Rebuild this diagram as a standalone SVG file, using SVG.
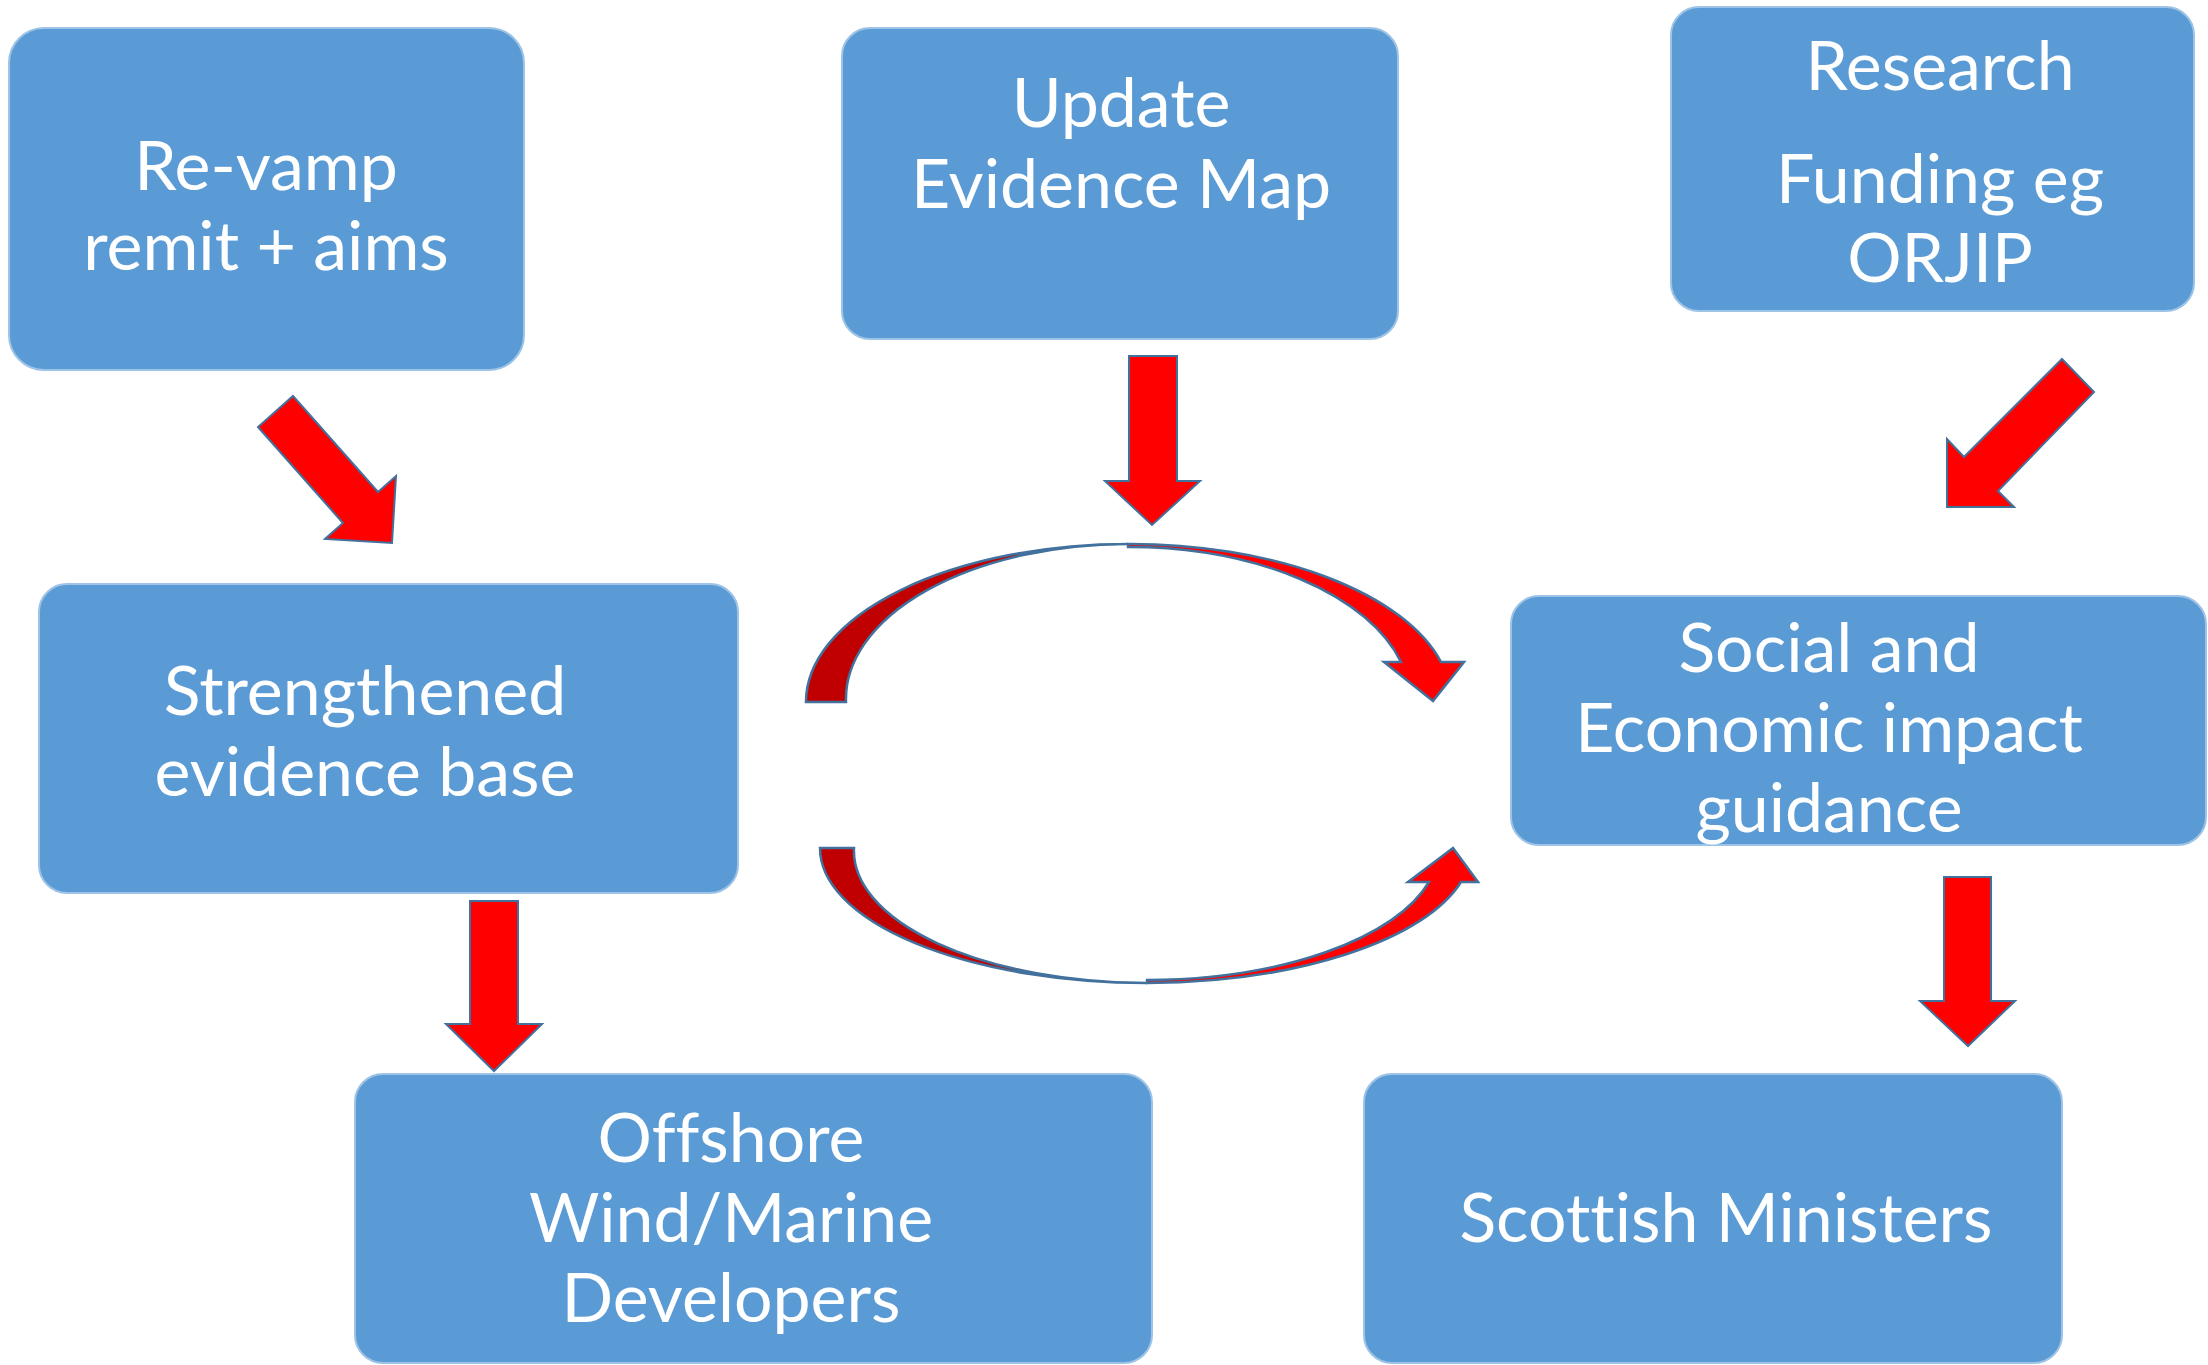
<svg xmlns="http://www.w3.org/2000/svg" width="2208" height="1365" viewBox="0 0 2208 1365">
<style>
.box{fill:#5B9BD5;stroke:#9DC3E6;stroke-width:2}
.t{font-family:Lato,"Open Sans","Liberation Sans",sans-serif;font-size:68px;fill:#ffffff;text-anchor:middle;font-variant-ligatures:none;font-feature-settings:"liga" 0,"clig" 0}
.arr{fill:#FF0000;stroke:#41719C;stroke-width:2;stroke-linejoin:miter}
.dark{fill:#C00000;stroke:#41719C;stroke-width:2.5}
.bright{fill:#FF0000;stroke:#41719C;stroke-width:2.5}
</style>
<rect width="2208" height="1365" fill="#ffffff"/>
<g id="connectors">
<polygon class="arr" points="293,396 378,492 396,476 392,543 325,539 343,523 258,427"/>
<polygon class="arr" points="1129,356 1177,356 1177,481 1200,481 1152,525 1105,481 1129,481"/>
<polygon class="arr" points="2062,359 2094,392 1998,491 2014,507 1947,507 1947,439 1964,457"/>
<polygon class="arr" points="470,901 518,901 518,1024 542,1024 494,1071 446,1024 470,1024"/>
<polygon class="arr" points="1944,877 1991,877 1991,1001 2015,1001 1968,1046 1920,1001 1944,1001"/>
<g id="curve-top">
<path class="dark" d="M806,702 A322,158 0 0 1 1128,544 A282,155 0 0 0 846,702 Z"/>
<path class="bright" d="M1128,544 A322,158 0 0 1 1441,662 L1464,662 L1433,701 L1384,662 L1401,662 A282,155 0 0 0 1128,547 Z"/>
</g>
<g id="curve-bottom">
<path class="dark" d="M820,848 A327,135 0 0 0 1147,983 A293,132 0 0 1 854,848 Z"/>
<path class="bright" d="M1147,983 A327,135 0 0 0 1461,882 L1478,882 L1453,848 L1408,882 L1429,882 A293,132 0 0 1 1147,980 Z"/>
</g>
</g>
<g id="node-revamp">
<rect class="box" x="9" y="28" width="515" height="342" rx="35"/>
<text class="t" x="266" y="190">Re-vamp</text>
<text class="t" x="266" y="270">remit + aims</text>
</g>
<g id="node-update">
<rect class="box" x="842" y="28" width="556" height="311" rx="28"/>
<text class="t" x="1121" y="127">Update</text>
<text class="t" x="1121" y="208">Evidence Map</text>
</g>
<g id="node-research">
<rect class="box" x="1671" y="7" width="523" height="304" rx="28"/>
<text class="t" x="1940" y="90">Research</text>
<text class="t" x="1940" y="203">Funding eg</text>
<text class="t" x="1940" y="282">ORJIP</text>
</g>
<g id="node-strengthened">
<rect class="box" x="39" y="584" width="699" height="309" rx="28"/>
<text class="t" x="365" y="715">Strengthened</text>
<text class="t" x="365" y="796">evidence base</text>
</g>
<g id="node-social">
<rect class="box" x="1511" y="596" width="695" height="249" rx="28"/>
<text class="t" x="1829" y="672">Social and</text>
<text class="t" x="1829" y="752">Economic impact</text>
<text class="t" x="1829" y="832">guidance</text>
</g>
<g id="node-offshore">
<rect class="box" x="355" y="1074" width="797" height="289" rx="28"/>
<text class="t" x="731" y="1162">Offshore</text>
<text class="t" x="731" y="1242">Wind/Marine</text>
<text class="t" x="731" y="1322">Developers</text>
</g>
<g id="node-ministers">
<rect class="box" x="1364" y="1074" width="698" height="289" rx="28"/>
<text class="t" x="1726" y="1242">Scottish Ministers</text>
</g>
</svg>
